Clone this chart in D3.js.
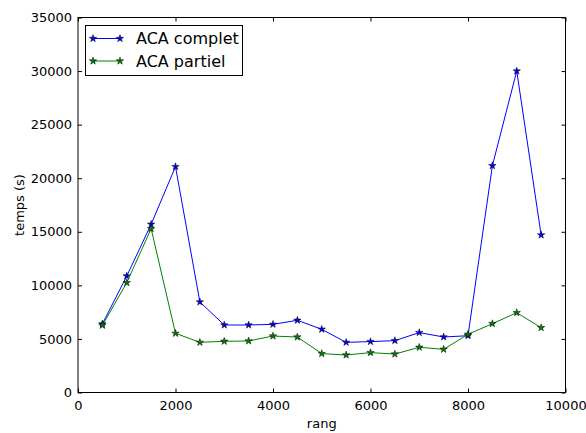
<!DOCTYPE html>
<html>
<head>
<meta charset="utf-8">
<script src="https://cdn.jsdelivr.net/npm/d3@7"></script>
<style>
  html, body { margin: 0; padding: 0; background: #fff; }
  svg { display: block; font-family: "DejaVu Sans", sans-serif; }
</style>
</head>
<body>
<svg id="chart" width="586" height="433"></svg>
<script>
// Rang values (x) and computation times in seconds for both variants
const rang = [500, 1000, 1500, 2000, 2500, 3000, 3500, 4000, 4500, 5000, 5500, 6000, 6500, 7000, 7500, 8000, 8500, 9000, 9500];
const acaComplet = [6400, 10870, 15700, 21080, 8450, 6300, 6300, 6360, 6740, 5900, 4680, 4750, 4840, 5590, 5180, 5300, 21170, 30000, 14700];
const acaPartiel = [6270, 10250, 15290, 5520, 4680, 4780, 4810, 5270, 5180, 3630, 3500, 3720, 3590, 4220, 4030, 5430, 6420, 7450, 6050];
const xTicks = [0, 2000, 4000, 6000, 8000, 10000];
const yTicks = [0, 5000, 10000, 15000, 20000, 25000, 30000, 35000];
const seriesNames = ["ACA complet", "ACA partiel"];
const seriesColors = ["#0000ff", "#008000"];

(function () {
  const margin = { left: 78, right: 20.5, top: 17.5, bottom: 40.5 };
  const W = 586, H = 433;
  const svg = d3.select("#chart");

  const x = d3.scaleLinear().domain([0, 10000]).range([margin.left, W - margin.right]);
  const y = d3.scaleLinear().domain([0, 35000]).range([H - margin.bottom, margin.top]);

  const star = d3.symbol().type(d3.symbolStar).size(17);

  // Series lines and star markers
  const series = [acaComplet, acaPartiel];
  series.forEach((vals, i) => {
    const pts = rang.map((r, k) => [r, vals[k]]);
    svg.append("path")
      .datum(pts)
      .attr("fill", "none")
      .attr("stroke", seriesColors[i])
      .attr("stroke-width", 1)
      .attr("d", d3.line().x(d => x(d[0])).y(d => y(d[1])));
    svg.append("g").selectAll("path")
      .data(pts)
      .join("path")
      .attr("transform", d => `translate(${x(d[0])},${y(d[1])})`)
      .attr("d", star)
      .attr("fill", seriesColors[i])
      .attr("stroke", "#000")
      .attr("stroke-width", 0.5);
  });

  // Axes with inward ticks on all four sides
  const tickLen = 4;
  const axBottom = svg.append("g").attr("transform", `translate(0,${y(0)})`)
    .call(d3.axisBottom(x).tickValues(xTicks).tickFormat(d3.format("d")).tickSizeInner(-tickLen).tickSizeOuter(0).tickPadding(8));
  const axTop = svg.append("g").attr("transform", `translate(0,${y(35000)})`)
    .call(d3.axisTop(x).tickValues(xTicks).tickFormat("").tickSizeInner(-tickLen).tickSizeOuter(0));
  const axLeft = svg.append("g").attr("transform", `translate(${x(0)},0)`)
    .call(d3.axisLeft(y).tickValues(yTicks).tickFormat(d3.format("d")).tickSizeInner(-tickLen).tickSizeOuter(0).tickPadding(6));
  const axRight = svg.append("g").attr("transform", `translate(${x(10000)},0)`)
    .call(d3.axisRight(y).tickValues(yTicks).tickFormat("").tickSizeInner(-tickLen).tickSizeOuter(0));

  [axBottom, axTop, axLeft, axRight].forEach(g => {
    g.select(".domain").remove();
    g.selectAll(".tick line").attr("stroke", "#000").attr("stroke-width", 1);
    g.selectAll(".tick text").attr("fill", "#000").style("font-size", "13px").style("font-family", "DejaVu Sans");
  });

  // Frame
  svg.append("rect")
    .attr("x", x(0)).attr("y", y(35000))
    .attr("width", x(10000) - x(0)).attr("height", y(0) - y(35000))
    .attr("fill", "none").attr("stroke", "#000").attr("stroke-width", 1);

  // Axis labels
  svg.append("text")
    .attr("x", (x(0) + x(10000)) / 2).attr("y", 428)
    .attr("text-anchor", "middle").style("font-size", "13px").text("rang");
  svg.append("text")
    .attr("transform", `translate(24,${(y(0) + y(35000)) / 2}) rotate(-90)`)
    .attr("text-anchor", "middle").style("font-size", "13px").text("temps (s)");

  // Legend
  const lg = svg.append("g");
  lg.append("rect")
    .attr("x", 85.5).attr("y", 25.5).attr("width", 157).attr("height", 50)
    .attr("fill", "#fff").attr("stroke", "#000").attr("stroke-width", 1);
  seriesNames.forEach((name, i) => {
    const cy = 38.5 + i * 22.5;
    lg.append("line")
      .attr("x1", 93).attr("x2", 120).attr("y1", cy).attr("y2", cy)
      .attr("stroke", seriesColors[i]).attr("stroke-width", 1);
    [93, 120].forEach(px => {
      lg.append("path")
        .attr("transform", `translate(${px},${cy})`)
        .attr("d", star)
        .attr("fill", seriesColors[i]).attr("stroke", "#000").attr("stroke-width", 0.5);
    });
    lg.append("text")
      .attr("x", 136).attr("y", cy + 5.5)
      .style("font-size", "16px").text(name);
  });
})();
</script>
</body>
</html>
